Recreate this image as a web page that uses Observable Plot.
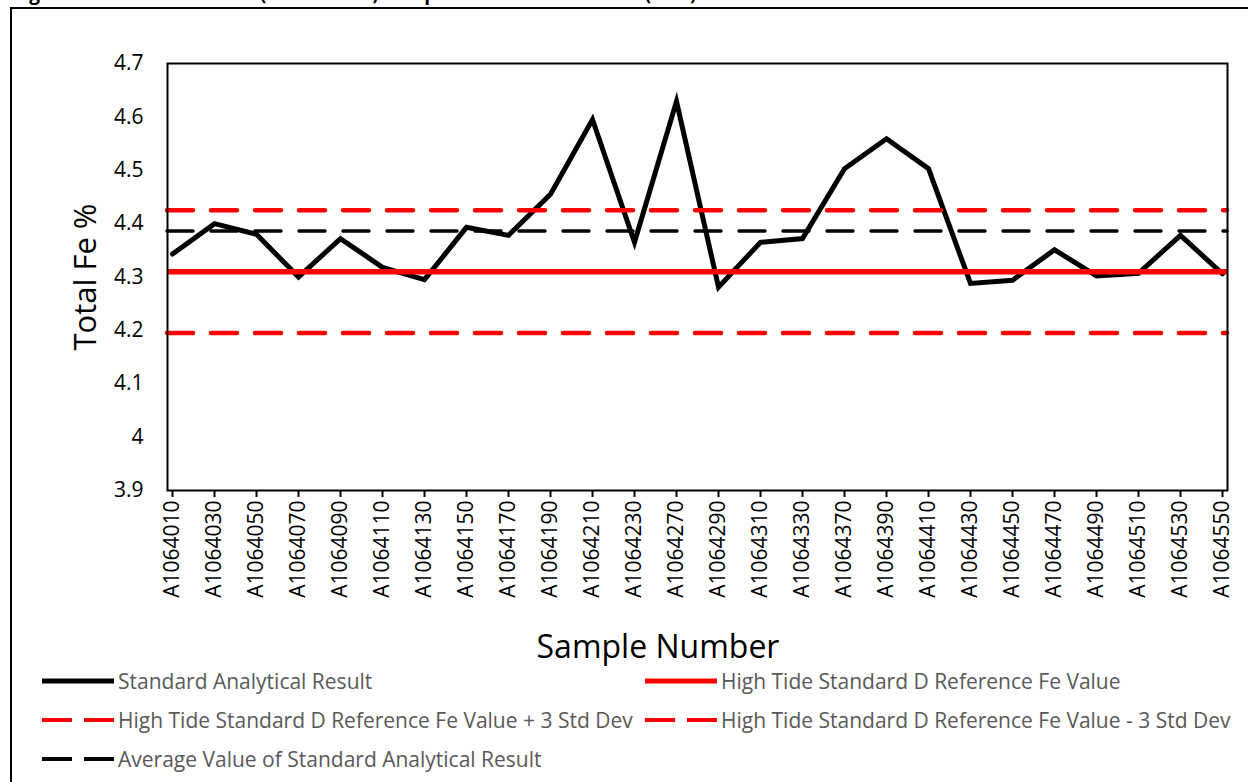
<!DOCTYPE html>
<html>
<head>
<meta charset="utf-8">
<script src="https://cdn.jsdelivr.net/npm/d3@7"></script>
<script src="https://cdn.jsdelivr.net/npm/@observablehq/plot@0.6"></script>
<style>
  html, body { margin: 0; padding: 0; background: #fff; }
  body { position: relative; width: 1248px; height: 782px; overflow: hidden; font-family: "Open Sans", sans-serif; }
  #title { position: absolute; left: 13px; top: -16px; font-size: 19px; line-height: 1; font-weight: bold; white-space: nowrap; color: #000; }
  #box { position: absolute; left: 10px; top: 7px; width: 1300px; height: 900px; border: 2px solid #000; box-sizing: border-box; }
  #chart { position: absolute; left: 0; top: 0; }
  #ylabel { position: absolute; left: 84px; top: 277px; transform: translate(-50%, -50%) rotate(-90deg); font-size: 31px; line-height: 1; white-space: nowrap; color: #000; }
  #xlabel { position: absolute; left: 658px; top: 630px; transform: translateX(-50%); font-size: 32px; line-height: 1; white-space: nowrap; color: #000; }
  #legend { position: absolute; left: 42px; top: 661px; width: 1206px; display: flex; flex-wrap: wrap; }
  .item { width: 603px; height: 39px; display: flex; align-items: center; font-size: 21px; color: #595959; white-space: nowrap; }
  .item svg { margin-right: 4px; flex: none; }
</style>
</head>
<body>
<div id="box"></div>
<div id="title">Figure 11-3: Control Chart (Standard D) Sample Results for Total Fe (Fe%)</div>
<div id="chart"></div>
<div id="ylabel">Total Fe %</div>
<div id="xlabel">Sample Number</div>
<div id="legend"></div>
<script>
const samples = ["A1064010","A1064030","A1064050","A1064070","A1064090","A1064110","A1064130","A1064150","A1064170","A1064190","A1064210","A1064230","A1064270","A1064290","A1064310","A1064330","A1064370","A1064390","A1064410","A1064430","A1064450","A1064470","A1064490","A1064510","A1064530","A1064550"];
const feValues = [4.343,4.400,4.380,4.300,4.372,4.318,4.295,4.393,4.378,4.455,4.595,4.365,4.629,4.281,4.365,4.372,4.503,4.559,4.503,4.288,4.294,4.351,4.302,4.307,4.378,4.306];
const referenceValue = 4.31;
const upperLimit = 4.425;
const lowerLimit = 4.195;
const averageValue = 4.386;
const yTicks = [3.9,4.0,4.1,4.2,4.3,4.4,4.5,4.6,4.7];

const legendLabels = [
  "Standard Analytical Result",
  "High Tide Standard D Reference Fe Value",
  "High Tide Standard D Reference Fe Value + 3 Std Dev",
  "High Tide Standard D Reference Fe Value - 3 Std Dev",
  "Average Value of Standard Analytical Result"
];
const legendColors = ["#000000","#ff0000","#ff0000","#ff0000","#000000"];
const legendDashed = [false,false,true,true,true];

const rows = samples.map((s, i) => ({sample: s, fe: feValues[i]}));
const dash = "26,18";

const chart = Plot.plot({
  width: 1248,
  height: 665,
  marginLeft: 167,
  marginRight: 21,
  marginTop: 63,
  marginBottom: 175,
  style: {fontFamily: "Open Sans", fontSize: "21px", color: "#000", background: "transparent"},
  x: {type: "point", domain: samples, padding: 0},
  y: {domain: [3.9, 4.7]},
  marks: [
    Plot.line(rows, {x: "sample", y: "fe", stroke: "#000", strokeWidth: 5, strokeLinejoin: "miter", strokeMiterlimit: 10}),
    Plot.ruleY([referenceValue], {stroke: "#ff0000", strokeWidth: 5.5}),
    Plot.ruleY([upperLimit], {stroke: "#ff0000", strokeWidth: 4.5, strokeDasharray: dash, strokeLinecap: "round"}),
    Plot.ruleY([lowerLimit], {stroke: "#ff0000", strokeWidth: 4.5, strokeDasharray: dash, strokeLinecap: "round"}),
    Plot.ruleY([averageValue], {stroke: "#000", strokeWidth: 3.5, strokeDasharray: dash, strokeLinecap: "round"}),
    Plot.frame({stroke: "#000", strokeWidth: 2}),
    Plot.axisY({ticks: yTicks, tickFormat: d => String(+d.toFixed(1)), tickSize: 0, tickPadding: 24, fontSize: 21, label: null}),
    Plot.axisX({tickSize: 7, tickPadding: 3, tickRotate: -90, fontSize: 21, label: null, stroke: "#000", strokeWidth: 2})
  ]
});
document.getElementById("chart").appendChild(chart);

const legend = document.getElementById("legend");
legendLabels.forEach((label, i) => {
  const item = document.createElement("div");
  item.className = "item";
  const ns = "http://www.w3.org/2000/svg";
  const svg = document.createElementNS(ns, "svg");
  svg.setAttribute("width", 72);
  svg.setAttribute("height", 10);
  const line = document.createElementNS(ns, "line");
  line.setAttribute("x1", 0); line.setAttribute("x2", 72);
  line.setAttribute("y1", 5); line.setAttribute("y2", 5);
  line.setAttribute("stroke", legendColors[i]);
  line.setAttribute("stroke-width", legendDashed[i] ? 4 : 5);
  if (legendDashed[i]) line.setAttribute("stroke-dasharray", "30,12");
  svg.appendChild(line);
  item.appendChild(svg);
  const span = document.createElement("span");
  span.textContent = label;
  item.appendChild(span);
  legend.appendChild(item);
});
</script>
</body>
</html>
